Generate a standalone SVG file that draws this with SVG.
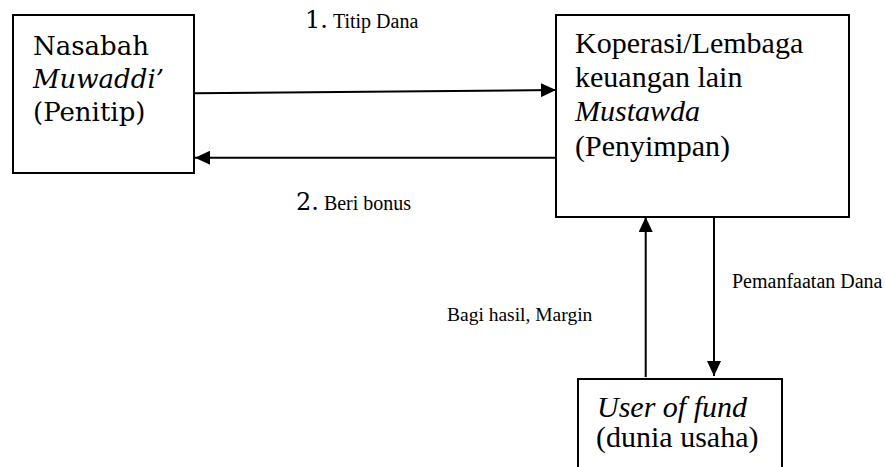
<svg xmlns="http://www.w3.org/2000/svg" width="885" height="467" viewBox="0 0 885 467">
<style>
.box{fill:#fff;stroke:#000;stroke-width:2}
.pal{font-family:"DejaVu Serif","Liberation Serif",serif;font-size:26px;fill:#000}
.tim{font-family:"Liberation Serif","Times New Roman",serif;font-size:30px;fill:#000}
.lbl{font-family:"Liberation Serif","Times New Roman",serif;font-size:20px;fill:#000}
.num{font-family:"DejaVu Serif","Liberation Serif",serif;font-size:24px;fill:#000}
.it{font-style:italic}
.con{stroke:#000;stroke-width:2;fill:none;marker-end:url(#ah)}
</style>
<defs>
<marker id="ah" markerUnits="userSpaceOnUse" markerWidth="16" markerHeight="14" refX="15" refY="7" orient="auto">
<path d="M0,0 L15,7 L0,14 Z" fill="#000"/>
</marker>
</defs>
<g id="connectors">
<line class="con" x1="194" y1="93.3" x2="556" y2="90"/>
<line class="con" x1="556" y1="157.7" x2="195" y2="157.7"/>
<line class="con" x1="645.7" y1="377" x2="645.7" y2="217"/>
<line class="con" x1="714" y1="217" x2="714" y2="376"/>
</g>
<g id="node-nasabah">
<rect class="box" x="13" y="15" width="181" height="158"/>
<text class="pal" x="33" y="55">Nasabah</text>
<text class="pal it" x="33" y="88">Muwaddi’</text>
<text class="pal" x="33" y="121">(Penitip)</text>
</g>
<g id="node-koperasi">
<rect class="box" x="556" y="15" width="293" height="202"/>
<text class="tim" x="575" y="53">Koperasi/Lembaga</text>
<text class="tim" x="575" y="87">keuangan lain</text>
<text class="tim it" x="575" y="121">Mustawda</text>
<text class="tim" x="575" y="156">(Penyimpan)</text>
</g>
<g id="node-user">
<rect class="box" x="578" y="379" width="204" height="100"/>
<text class="tim it" x="597" y="417">User of fund</text>
<text class="tim" x="596" y="447">(dunia usaha)</text>
</g>
<g id="labels">
<text x="305" y="28"><tspan class="num">1.</tspan><tspan class="lbl" dx="5">Titip Dana</tspan></text>
<text x="296" y="210"><tspan class="num">2.</tspan><tspan class="lbl" dx="5">Beri bonus</tspan></text>
<text class="lbl" x="732" y="288">Pemanfaatan Dana</text>
<text class="lbl" x="447" y="321" style="font-size:19.5px">Bagi hasil, Margin</text>
</g>
</svg>
